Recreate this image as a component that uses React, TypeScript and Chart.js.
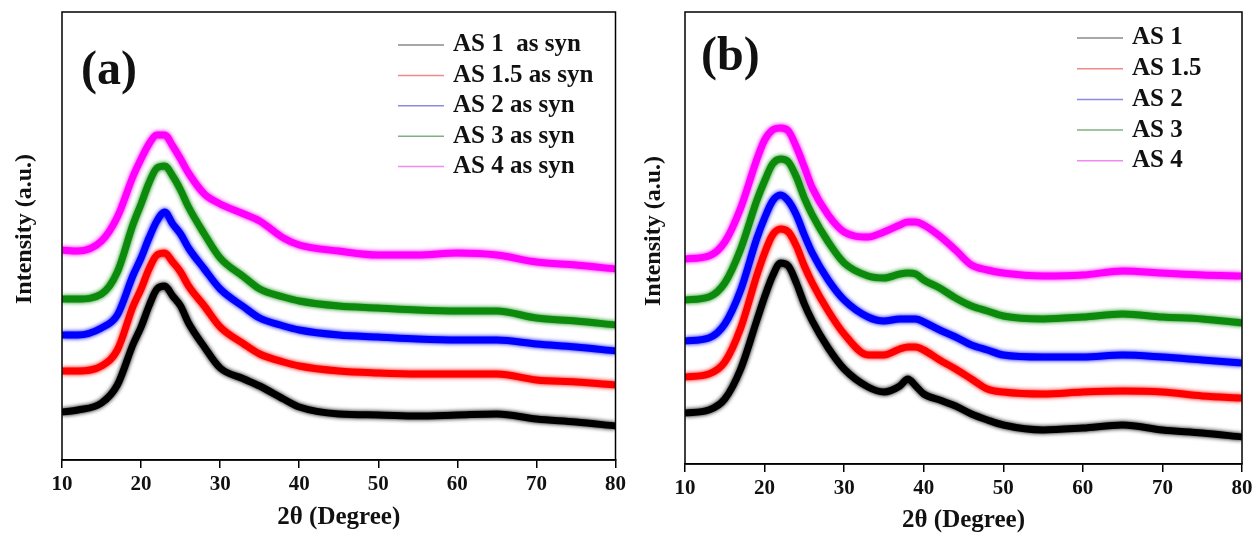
import React, { useEffect, useRef } from "react";
import { Chart, registerables } from "chart.js";

Chart.register(...registerables);

// ---------- Panel (a): as-synthesised samples ----------
const X_A = [10, 12, 15, 17, 19, 20, 21, 22, 23, 24, 25, 26, 28, 30, 33, 35, 38, 40, 45, 50, 55, 60, 65, 70, 75, 80];
const AS1_A = [48, 50, 57, 75, 116, 133, 154, 171, 174, 164, 154, 137, 113, 92, 81, 74, 61, 53, 46, 45, 44, 45, 46, 41, 38, 34];
const AS15_A = [89, 89, 94, 110, 154, 171, 191, 205, 207, 198, 188, 174, 154, 133, 116, 106, 98, 94, 89, 87, 86, 86, 86, 80, 78, 75];
const AS2_A = [125, 125, 132, 145, 185, 202, 222, 239, 248, 236, 226, 212, 191, 171, 153, 142, 134, 130, 125, 123, 121, 120, 120, 116, 113, 109];
const AS3_A = [161, 161, 166, 188, 236, 256, 277, 292, 294, 284, 270, 253, 226, 202, 183, 171, 163, 159, 154, 152, 150, 149, 149, 142, 139, 135];
const AS4_A = [210, 209, 219, 243, 284, 301, 316, 325, 325, 314, 301, 287, 266, 256, 246, 239, 222, 215, 209, 205, 205, 207, 205, 198, 195, 191];
const LABELS_A = ["AS 1  as syn", "AS 1.5 as syn", "AS 2 as syn", "AS 3 as syn", "AS 4 as syn"];

// ---------- Panel (b) ----------
const X_B = [10, 13, 15, 17, 19, 20, 21, 22, 23, 24, 25, 26, 28, 30, 33, 35, 37, 38, 39, 40, 42, 44, 46, 48, 50, 55, 60, 65, 70, 75, 80];
const AS1_B = [51, 54, 65, 95, 143, 167, 188, 201, 198, 181, 160, 143, 116, 95, 77, 72, 78, 85, 78, 70, 64, 58, 50, 44, 39, 34, 36, 39, 34, 31, 27];
const AS15_B = [87, 90, 102, 136, 188, 211, 229, 235, 232, 218, 198, 181, 153, 130, 109, 109, 115, 117, 117, 114, 104, 95, 85, 75, 72, 70, 72, 73, 72, 68, 66];
const AS2_B = [123, 126, 140, 174, 225, 246, 263, 269, 263, 249, 229, 211, 184, 164, 147, 143, 145, 145, 145, 142, 134, 127, 119, 114, 109, 107, 107, 109, 107, 104, 101];
const AS3_B = [164, 167, 181, 215, 263, 283, 300, 305, 302, 287, 266, 249, 222, 201, 188, 186, 190, 191, 190, 184, 176, 166, 158, 153, 148, 145, 147, 150, 147, 145, 141];
const AS4_B = [205, 208, 222, 256, 304, 324, 334, 336, 333, 317, 297, 276, 249, 232, 227, 232, 239, 242, 242, 239, 228, 214, 199, 194, 191, 188, 189, 193, 191, 189, 188];
const LABELS_B = ["AS 1", "AS 1.5", "AS 2", "AS 3", "AS 4"];

const X_TICKS = [10, 20, 30, 40, 50, 60, 70, 80];
const COLORS = ["#000000", "#ff0000", "#0000ff", "#0b8a0b", "#ff00ff"];
const LEGEND_COLORS = ["#8a8a8a", "#f08a8a", "#8a8ae0", "#7fb07f", "#f08af0"];
const X_TITLE = "2θ (Degree)";
const Y_TITLE = "Intensity (a.u.)";
const SERIF = "'Liberation Serif', 'Times New Roman', serif";

const decorPlugin = {
  id: "panelDecor",
  beforeDatasetDraw(chart: any, args: any) {
    const ctx = chart.ctx;
    ctx.save();
    ctx.shadowColor = COLORS[args.index];
    ctx.shadowBlur = 4;
  },
  afterDatasetDraw(chart: any) {
    chart.ctx.restore();
  },
  afterDatasetsDraw(chart: any, _args: any, opts: any) {
    const { ctx, chartArea } = chart;
    ctx.save();
    ctx.shadowBlur = 0;
    // frame
    ctx.strokeStyle = "#000";
    ctx.lineWidth = 1.5;
    ctx.strokeRect(chartArea.left, chartArea.top, chartArea.right - chartArea.left, chartArea.bottom - chartArea.top);
    // y title
    ctx.save();
    ctx.translate(opts.yTitleX, opts.yTitleY);
    ctx.rotate(-Math.PI / 2);
    ctx.fillStyle = "#111";
    ctx.font = `bold 24px ${SERIF}`;
    ctx.textAlign = "center";
    ctx.textBaseline = "middle";
    ctx.fillText(Y_TITLE, 0, 0);
    ctx.restore();
    // panel letter
    ctx.fillStyle = "#111";
    ctx.font = `bold 48px ${SERIF}`;
    ctx.textAlign = "left";
    ctx.textBaseline = "middle";
    ctx.fillText(opts.letter, opts.letterX, opts.letterY);
    // legend
    ctx.font = `bold 25px ${SERIF}`;
    chart.data.datasets.forEach((ds: any, i: number) => {
      const y = opts.legendY + i * opts.legendGap;
      ctx.strokeStyle = LEGEND_COLORS[i];
      ctx.lineWidth = 1.5;
      ctx.beginPath();
      ctx.moveTo(opts.legendX, y);
      ctx.lineTo(opts.legendX + 46, y);
      ctx.stroke();
      ctx.fillStyle = "#111";
      ctx.fillText(ds.label, opts.legendX + 55, y);
    });
    ctx.restore();
  },
};

function makeConfig(xs: number[], series: number[][], labels: string[], p: any) {
  return {
    type: "line" as const,
    data: {
      datasets: series.map((ys, i) => ({
        label: labels[i],
        data: xs.map((x, j) => ({ x, y: ys[j] })),
        borderColor: COLORS[i],
        backgroundColor: COLORS[i],
        borderWidth: 7,
        pointRadius: 0,
        cubicInterpolationMode: "monotone",
        fill: false,
      })),
    },
    options: {
      animation: false,
      responsive: false,
      devicePixelRatio: 1,
      layout: { padding: { left: p.left, right: p.right, top: p.top, bottom: 0 } },
      plugins: {
        legend: { display: false },
        tooltip: { enabled: false },
        panelDecor: p.decor,
      },
      scales: {
        x: {
          type: "linear",
          min: 10,
          max: 80,
          afterBuildTicks: (s: any) => {
            s.ticks = X_TICKS.map((v) => ({ value: v }));
          },
          afterFit: (s: any) => {
            s.height = p.axisH;
          },
          grid: { display: true, drawOnChartArea: false, drawTicks: true, tickLength: 8, color: "#000", lineWidth: 1.5 },
          border: { display: true, color: "#000", width: 1.5 },
          ticks: { color: "#111", font: { family: SERIF, size: 21, weight: "bold" }, padding: 4, maxRotation: 0 },
          title: {
            display: true,
            text: X_TITLE,
            color: "#111",
            font: { family: SERIF, size: 25, weight: "bold" },
            padding: { top: 0, bottom: p.titlePad },
          },
        },
        y: { display: false, min: 0, max: p.yMax },
      },
    },
    plugins: [decorPlugin],
  };
}

export default function App() {
  const refA = useRef<HTMLCanvasElement>(null);
  const refB = useRef<HTMLCanvasElement>(null);

  useEffect(() => {
    const a = new Chart(
      refA.current as HTMLCanvasElement,
      makeConfig(X_A, [AS1_A, AS15_A, AS2_A, AS3_A, AS4_A], LABELS_A, {
        left: 62,
        right: 13,
        top: 12,
        axisH: 76,
        titlePad: 3,
        yMax: 448,
        decor: { yTitleX: 25, yTitleY: 229, letter: "(a)", letterX: 81, letterY: 72, legendX: 398, legendY: 45, legendGap: 30.4 },
      }) as any
    );
    const b = new Chart(
      refB.current as HTMLCanvasElement,
      makeConfig(X_B, [AS1_B, AS15_B, AS2_B, AS3_B, AS4_B], LABELS_B, {
        left: 55,
        right: 15,
        top: 12,
        axisH: 72,
        titlePad: 0,
        yMax: 452,
        decor: { yTitleX: 24, yTitleY: 231, letter: "(b)", letterX: 71, letterY: 58, legendX: 447, legendY: 38, legendGap: 30.7 },
      }) as any
    );
    return () => {
      a.destroy();
      b.destroy();
    };
  }, []);

  return (
    <div style={{ position: "fixed", left: 0, top: 0, width: 1257, height: 536, background: "#fff" }}>
      <canvas ref={refA} width={630} height={536} style={{ position: "absolute", left: 0, top: 0, width: 630, height: 536 }} />
      <canvas ref={refB} width={627} height={536} style={{ position: "absolute", left: 630, top: 0, width: 627, height: 536 }} />
    </div>
  );
}
